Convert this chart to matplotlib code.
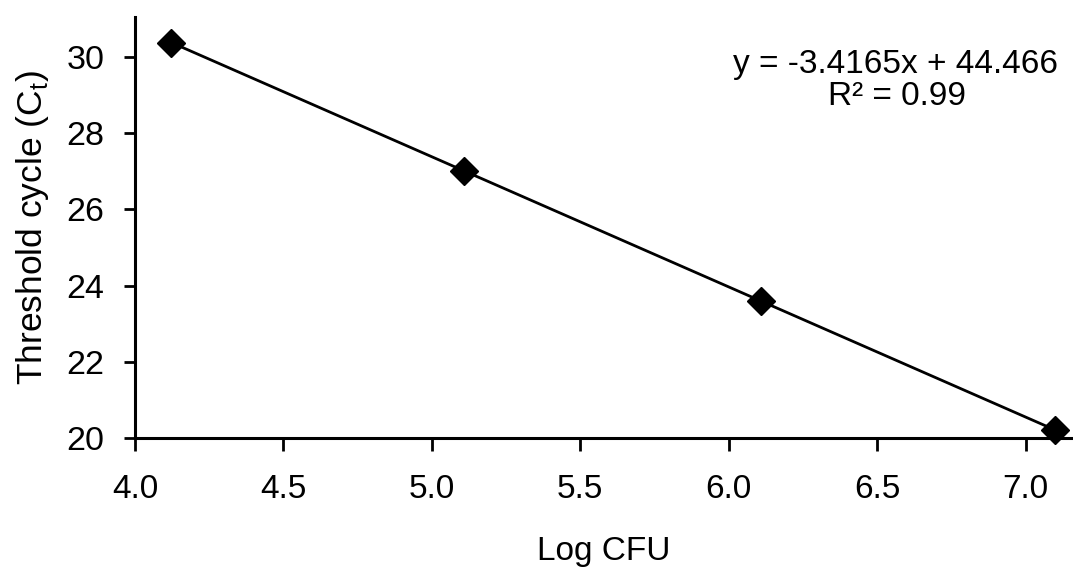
import numpy as np
import matplotlib
matplotlib.use("Agg")
import matplotlib.pyplot as plt

# Standard curve: log CFU vs threshold cycle
log_cfu = [4.12, 5.11, 6.11, 7.10]
ct_values = [30.38, 27.02, 23.60, 20.20]
slope = -3.4165
intercept = 44.466
r_squared = 0.99
x_ticks = [4.0, 4.5, 5.0, 5.5, 6.0, 6.5, 7.0]
y_ticks = [20, 22, 24, 26, 28, 30]

plt.rcParams['font.family'] = ['Liberation Sans', 'DejaVu Sans']

fig = plt.figure(figsize=(10.73, 5.70), dpi=100)
ax = fig.add_axes([0.1258, 0.2316, 0.8742, 0.7384])

# Linear trend line from the fitted coefficients
xl = np.array([min(log_cfu), max(log_cfu)])
ax.plot(xl, slope * xl + intercept, color='black', lw=2.0, zorder=2)
ax.plot(log_cfu, ct_values, linestyle='none', marker='D', markersize=14,
        color='black', zorder=3, clip_on=False)

ax.set_xlim(4.0, 7.16)
ax.set_ylim(20, 31.05)
ax.set_xticks(x_ticks)
ax.set_xticklabels([f"{t:.1f}" for t in x_ticks])
ax.set_yticks(y_ticks)

for side in ('top', 'right'):
    ax.spines[side].set_visible(False)
for side in ('left', 'bottom'):
    ax.spines[side].set_linewidth(2.2)

ax.tick_params(axis='x', direction='out', length=9, width=2.0, pad=17, labelsize=24)
ax.tick_params(axis='y', direction='out', length=8, width=2.0, pad=14, labelsize=24.5)

ax.set_xlabel('Log CFU', fontsize=24, labelpad=22)
ax.set_ylabel('Threshold cycle (C$_\\mathregular{t}$)', fontsize=25.5, labelpad=11)

# Regression equation and fit quality
ax.text(0.811, 0.867, f"y = {slope}x + {intercept}",
        transform=ax.transAxes, ha='center', va='baseline', fontsize=24)
ax.text(0.812, 0.791, f"R² = {r_squared}",
        transform=ax.transAxes, ha='center', va='baseline', fontsize=24)

fig.savefig('out.png', dpi=100)
